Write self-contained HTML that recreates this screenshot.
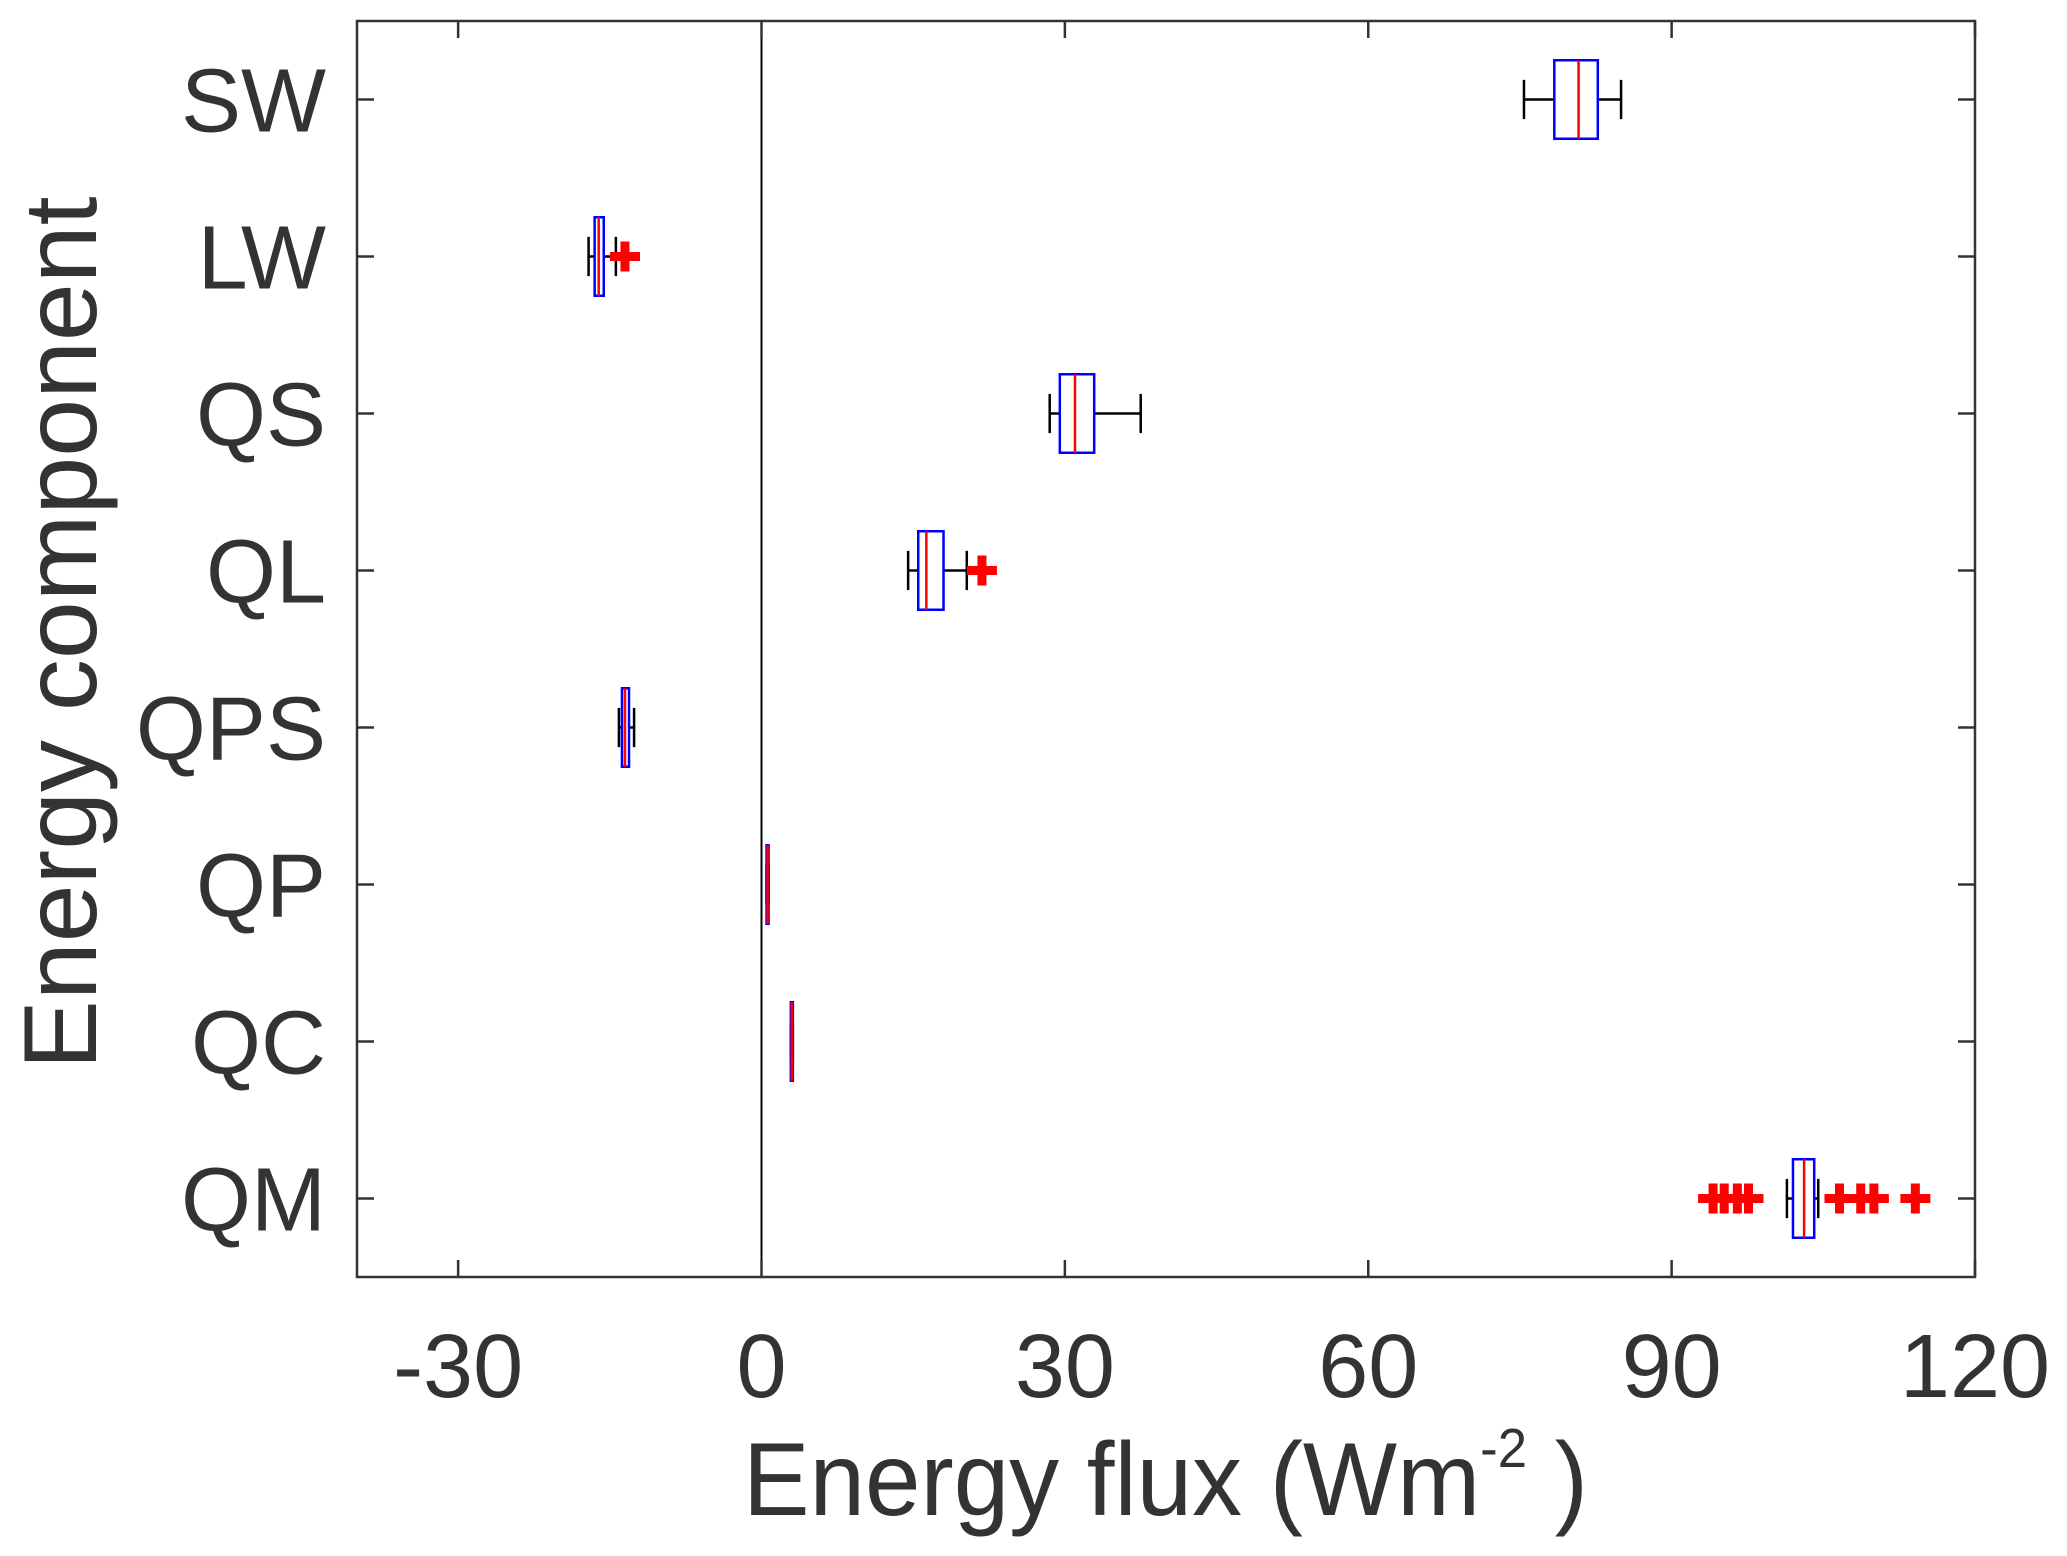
<!DOCTYPE html>
<html><head><meta charset="utf-8"><style>
html,body{margin:0;padding:0;background:#fff;}
svg{display:block;font-family:"Liberation Sans",Arial,sans-serif;}
</style></head><body>
<svg id="chart" width="2067" height="1556" viewBox="0 0 2067 1556" xmlns="http://www.w3.org/2000/svg">
<g id="grid"></g>
</svg>
<script>
const categories = ["SW","LW","QS","QL","QPS","QP","QC","QM"];
const whiskerLow = [75.4,-17.1,28.5,14.5,-14.1,0.5,2.9,101.4];
const q1 = [78.4,-16.5,29.5,15.5,-13.8,0.5,2.9,102.0];
const medians = [80.8,-16.1,31.0,16.3,-13.5,0.6,3.0,103.1];
const q3 = [82.7,-15.6,32.9,18.0,-13.1,0.7,3.1,104.1];
const whiskerHigh = [85.0,-14.4,37.5,20.3,-12.6,0.7,3.1,104.5];
const outliers = [[],[-13.5],[],[21.8],[],[],[],[94.1,95.2,96.5,97.6,106.6,108.7,110.0,114.1]];
const xTicks = [-30,0,30,60,90,120];

const L=357,R=1975,T=21,B=1277,XMIN=-40,XMAX=120;
const sx=v=>L+(v-XMIN)/(XMAX-XMIN)*(R-L);
const sy=i=>T+(i+0.5)/categories.length*(B-T);
const bandH=(B-T)/categories.length;
const svg=document.getElementById('chart');
const NS='http://www.w3.org/2000/svg';
function mk(tag,attrs,parent){const e=document.createElementNS(NS,tag);for(const k in attrs)e.setAttribute(k,attrs[k]);(parent||svg).appendChild(e);return e;}

// zero line
let z=mk('line',{x1:sx(0),x2:sx(0),y1:T,y2:B,stroke:'#000','stroke-width':2});



// x ticks
xTicks.forEach(v=>{
  const x=sx(v);
  let t1=mk('line',{x1:x,x2:x,y1:B,y2:B-17,stroke:'#333','stroke-width':2.5});
  
  
  let t2=mk('line',{x1:x,x2:x,y1:T,y2:T+17,stroke:'#333','stroke-width':2.5});
  
  
  let lb=mk('text',{x:x,y:1397,'text-anchor':'middle','font-size':90,fill:'#333'});
  lb.textContent=String(v);
  
  
});

categories.forEach((c,i)=>{
  const y=sy(i);
  let t1=mk('line',{x1:L,x2:L+17,y1:y,y2:y,stroke:'#333','stroke-width':2.5});
  
  
  let t2=mk('line',{x1:R,x2:R-17,y1:y,y2:y,stroke:'#333','stroke-width':2.5});
  
  
  let lb=mk('text',{x:326,y:y+32,'text-anchor':'end','font-size':90,fill:'#333'});
  lb.textContent=c;
  
  

  const g=mk('g',{});
  
  
  const bh=bandH*0.5, ch=bandH*0.25;
  mk('line',{x1:sx(whiskerLow[i]),x2:sx(q1[i]),y1:y,y2:y,stroke:'#000','stroke-width':2.5},g);
  mk('line',{x1:sx(q3[i]),x2:sx(whiskerHigh[i]),y1:y,y2:y,stroke:'#000','stroke-width':2.5},g);
  mk('line',{x1:sx(whiskerLow[i]),x2:sx(whiskerLow[i]),y1:y-ch/2,y2:y+ch/2,stroke:'#000','stroke-width':2.5},g);
  mk('line',{x1:sx(whiskerHigh[i]),x2:sx(whiskerHigh[i]),y1:y-ch/2,y2:y+ch/2,stroke:'#000','stroke-width':2.5},g);
  mk('rect',{x:sx(q1[i]),y:y-bh/2,width:Math.max(sx(q3[i])-sx(q1[i]),1),height:bh,fill:'none',stroke:'#00f','stroke-width':2.5},g);
  mk('line',{x1:sx(medians[i]),x2:sx(medians[i]),y1:y-bh/2,y2:y+bh/2,stroke:'#f00','stroke-width':2.5},g);
  outliers[i].forEach(o=>{
    const ox=sx(o);
    const p=mk('path',{d:`M${ox-15},${y}H${ox+15}M${ox},${y-15}V${y+15}`,stroke:'#f00','stroke-width':9,fill:'none'},g);
    
    
  });
});

let fr=mk('rect',{x:L,y:T,width:R-L,height:B-T,fill:'none',stroke:'#333','stroke-width':2.5});



let xl=mk('text',{x:743,y:1515,'font-size':104,fill:'#333',textLength:845,lengthAdjust:'spacingAndGlyphs'});
xl.innerHTML='Energy flux (Wm<tspan font-size="55" dy="-48">-2</tspan><tspan dy="48"> )</tspan>';



let yl=mk('text',{x:0,y:0,'font-size':104,fill:'#333','text-anchor':'middle',transform:'translate(96,633) rotate(-90)'});
yl.textContent='Energy component';


</script>
</body></html>
